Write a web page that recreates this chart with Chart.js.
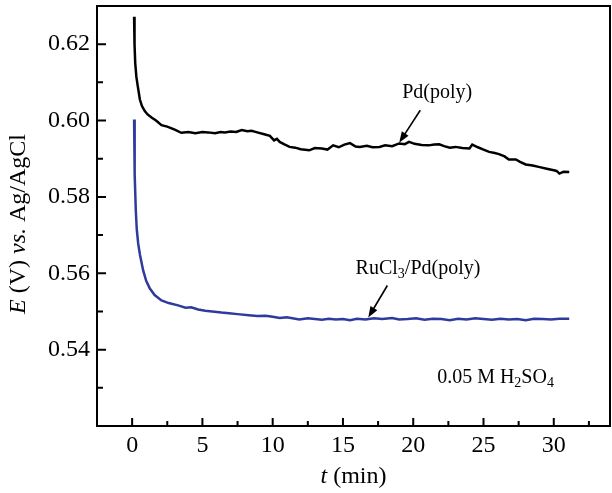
<!DOCTYPE html>
<html>
<head>
<meta charset="utf-8">
<script src="https://cdn.jsdelivr.net/npm/chart.js@4.4.1/dist/chart.umd.min.js"></script>
<style>
  html, body { margin: 0; padding: 0; background: #fff; }
  #wrap { width: 612px; height: 493px; }
</style>
</head>
<body>
<div id="wrap"><canvas id="c" width="612" height="493"></canvas></div>
<script>
// Pd(poly) open circuit potential
const tPd = [0.14, 0.17, 0.22, 0.3, 0.4, 0.55, 0.7, 0.9, 1.1, 1.38, 1.7, 2.09, 2.5, 3.03, 3.5, 4.0, 4.5, 5.0, 5.4, 5.9,
  6.3, 6.6, 7.0, 7.4, 7.8, 8.2, 8.5, 8.9, 9.4, 9.8, 10.1, 10.3, 10.5, 10.8, 11.2, 11.6, 12.0, 12.6, 13.0, 13.5,
  13.9, 14.3, 14.7, 15.1, 15.5, 15.9, 16.2, 16.7, 17.1, 17.6, 18.0, 18.5, 19.0, 19.4, 19.7, 20.1, 20.6, 21.1, 21.5, 21.85,
  22.2, 22.6, 23.0, 23.5, 24.0, 24.2, 24.6, 25.0, 25.4, 25.8, 26.1, 26.5, 26.8, 27.3, 27.6, 28.0, 28.5, 29.0, 29.5, 30.0,
  30.2, 30.4, 30.7, 31.1];
const ePd = [0.6272, 0.6200, 0.6150, 0.6115, 0.6090, 0.6055, 0.6038, 0.6025, 0.6016, 0.6008, 0.6000, 0.5988, 0.5984, 0.5976, 0.5968, 0.5970, 0.5967, 0.5970, 0.5969, 0.5967,
  0.5970, 0.5969, 0.5971, 0.5970, 0.5975, 0.5972, 0.5973, 0.5969, 0.5964, 0.5960, 0.5948, 0.5952, 0.5944, 0.5938, 0.5931, 0.5929, 0.5925, 0.5922, 0.5928, 0.5927,
  0.5924, 0.5935, 0.5930, 0.5937, 0.5941, 0.5932, 0.5931, 0.5934, 0.5930, 0.5931, 0.5935, 0.5933, 0.5940, 0.5938, 0.5944, 0.5939, 0.5936, 0.5935, 0.5937, 0.5938,
  0.5933, 0.5929, 0.5931, 0.5928, 0.5927, 0.5937, 0.5930, 0.5924, 0.5918, 0.5915, 0.5912, 0.5906, 0.5898, 0.5898, 0.5892, 0.5885, 0.5882, 0.5878, 0.5874, 0.5870,
  0.5868, 0.5861, 0.5866, 0.5865];

// RuCl3/Pd(poly)
const tRu = [0.14, 0.16, 0.2, 0.26, 0.33, 0.43, 0.55, 0.78, 1.0, 1.26, 1.6, 2.09, 2.6, 3.27, 3.8, 4.2, 4.7, 5.2, 5.7, 6.35,
  6.9, 7.5, 8.3, 8.9, 9.5, 10.0, 10.5, 11.0, 11.9, 12.5, 13.0, 13.5, 14.0, 14.5, 15.0, 15.5, 16.0, 16.6, 17.2, 17.8,
  18.5, 19.0, 19.6, 20.2, 20.8, 21.4, 22.0, 22.6, 23.2, 23.8, 24.4, 25.0, 25.6, 26.2, 26.8, 27.4, 28.0, 28.6, 29.2, 29.8,
  30.4, 31.1];
const eRu = [0.6003, 0.5950, 0.5860, 0.5765, 0.5715, 0.5678, 0.5650, 0.5608, 0.5580, 0.5560, 0.5543, 0.5529, 0.5522, 0.5516, 0.5510, 0.5511, 0.5505, 0.5502, 0.5500, 0.5497,
  0.5495, 0.5493, 0.5490, 0.5488, 0.5489, 0.5486, 0.5483, 0.5485, 0.5479, 0.5482, 0.5480, 0.5478, 0.5481, 0.5479, 0.5480, 0.5477, 0.5481, 0.5479, 0.5482, 0.5480,
  0.5483, 0.5479, 0.5480, 0.5482, 0.5478, 0.5481, 0.5480, 0.5477, 0.5481, 0.5479, 0.5482, 0.5480, 0.5478, 0.5481, 0.5479, 0.5480, 0.5477, 0.5481, 0.5480, 0.5479,
  0.5481, 0.5481];

const xTicks = [0, 5, 10, 15, 20, 25, 30];
const xMinor = [2.5, 7.5, 12.5, 17.5, 22.5, 27.5, 32.5];
const yTicks = [0.54, 0.56, 0.58, 0.60, 0.62];
const yMinor = [0.53, 0.55, 0.57, 0.59, 0.61];

const SERIF = "'Liberation Serif', 'Times New Roman', serif";

// text pieces: [text, italic, subscript]
function drawRuns(ctx, runs, x, y, size, align) {
  const widths = runs.map(r => {
    ctx.font = (r[1] ? 'italic ' : '') + (r[2] ? size * 0.7 : size) + 'px ' + SERIF;
    return ctx.measureText(r[0]).width;
  });
  const total = widths.reduce((a, b) => a + b, 0);
  let cx = align === 'center' ? x - total / 2 : x;
  runs.forEach((r, i) => {
    ctx.font = (r[1] ? 'italic ' : '') + (r[2] ? size * 0.7 : size) + 'px ' + SERIF;
    ctx.fillText(r[0], cx, r[2] ? y + size * 0.3 : y);
    cx += widths[i];
  });
}

function arrow(ctx, x1, y1, x2, y2) {
  const a = Math.atan2(y2 - y1, x2 - x1);
  const hl = 11, hw = 4;
  ctx.beginPath();
  ctx.moveTo(x1, y1);
  ctx.lineTo(x2 - hl * 0.8 * Math.cos(a), y2 - hl * 0.8 * Math.sin(a));
  ctx.lineWidth = 1.6;
  ctx.stroke();
  ctx.beginPath();
  ctx.moveTo(x2, y2);
  ctx.lineTo(x2 - hl * Math.cos(a) + hw * Math.sin(a), y2 - hl * Math.sin(a) - hw * Math.cos(a));
  ctx.lineTo(x2 - hl * Math.cos(a) - hw * Math.sin(a), y2 - hl * Math.sin(a) + hw * Math.cos(a));
  ctx.closePath();
  ctx.fill();
}

const framePlugin = {
  id: 'frame',
  afterDraw(chart) {
    const ctx = chart.ctx;
    const a = chart.chartArea;
    const xs = chart.scales.x, ys = chart.scales.y;
    ctx.save();
    ctx.strokeStyle = '#000';
    ctx.fillStyle = '#000';
    ctx.lineWidth = 2;
    ctx.strokeRect(a.left, a.top, a.right - a.left, a.bottom - a.top);

    // inward ticks
    ctx.beginPath();
    xTicks.forEach(v => { const p = xs.getPixelForValue(v); ctx.moveTo(p, a.bottom); ctx.lineTo(p, a.bottom - 8); });
    xMinor.forEach(v => { const p = xs.getPixelForValue(v); ctx.moveTo(p, a.bottom); ctx.lineTo(p, a.bottom - 5); });
    yTicks.forEach(v => { const p = ys.getPixelForValue(v); ctx.moveTo(a.left, p); ctx.lineTo(a.left + 9, p); });
    yMinor.forEach(v => { const p = ys.getPixelForValue(v); ctx.moveTo(a.left, p); ctx.lineTo(a.left + 6, p); });
    ctx.stroke();

    // axis titles
    ctx.textBaseline = 'middle';
    drawRuns(ctx, [['t', true], [' (min)']], (a.left + a.right) / 2, 477, 24, 'center');
    ctx.save();
    ctx.translate(19, (a.top + a.bottom) / 2 + 8);
    ctx.rotate(-Math.PI / 2);
    drawRuns(ctx, [['E', true], [' (V) '], ['vs.', true], [' Ag/AgCl']], 0, 0, 24, 'center');
    ctx.restore();

    // annotations
    const X = v => xs.getPixelForValue(v), Y = v => ys.getPixelForValue(v);
    drawRuns(ctx, [['Pd(poly)']], X(21.7), Y(0.6072), 20, 'center');
    drawRuns(ctx, [['RuCl'], ['3', false, true], ['/Pd(poly)']], X(15.9), Y(0.5613), 20, 'left');
    drawRuns(ctx, [['0.05 M H'], ['2', false, true], ['SO'], ['4', false, true]], X(21.7), Y(0.5327), 20, 'left');
    arrow(ctx, X(20.5), Y(0.6027), X(19.0), Y(0.5942));
    arrow(ctx, X(18.16), Y(0.5568), X(16.8), Y(0.5484));
    ctx.restore();
  }
};

const tickFont = { family: SERIF, size: 24 };

new Chart(document.getElementById('c'), {
  type: 'line',
  data: {
    datasets: [
      {
        label: 'Pd(poly)',
        data: tPd.map((t, i) => ({ x: t, y: ePd[i] })),
        borderColor: '#000000',
        borderWidth: 2.5,
        pointRadius: 0,
        tension: 0
      },
      {
        label: 'RuCl3/Pd(poly)',
        data: tRu.map((t, i) => ({ x: t, y: eRu[i] })),
        borderColor: '#2f3b9c',
        borderWidth: 2.5,
        pointRadius: 0,
        tension: 0
      }
    ]
  },
  options: {
    responsive: false,
    animation: false,
    layout: { padding: { top: 6, right: 2, left: 0, bottom: 0 } },
    plugins: { legend: { display: false }, tooltip: { enabled: false } },
    scales: {
      x: {
        type: 'linear',
        min: -2.5,
        max: 34,
        grid: { display: false, drawTicks: false },
        border: { display: false },
        ticks: { font: tickFont, color: '#000', padding: 5, maxRotation: 0, autoSkip: false },
        afterBuildTicks: s => { s.ticks = xTicks.map(v => ({ value: v })); },
        afterFit: s => { s.height = 67; s.paddingLeft = 0; s.paddingRight = 0; }
      },
      y: {
        type: 'linear',
        min: 0.52,
        max: 0.63,
        grid: { display: false, drawTicks: false },
        border: { display: false },
        ticks: { font: tickFont, color: '#000', padding: 7, autoSkip: false, callback: v => v.toFixed(2) },
        afterBuildTicks: s => { s.ticks = yTicks.map(v => ({ value: v })); },
        afterFit: s => { s.width = 97; s.paddingTop = 0; s.paddingBottom = 0; }
      }
    }
  },
  plugins: [framePlugin]
});
</script>
</body>
</html>
